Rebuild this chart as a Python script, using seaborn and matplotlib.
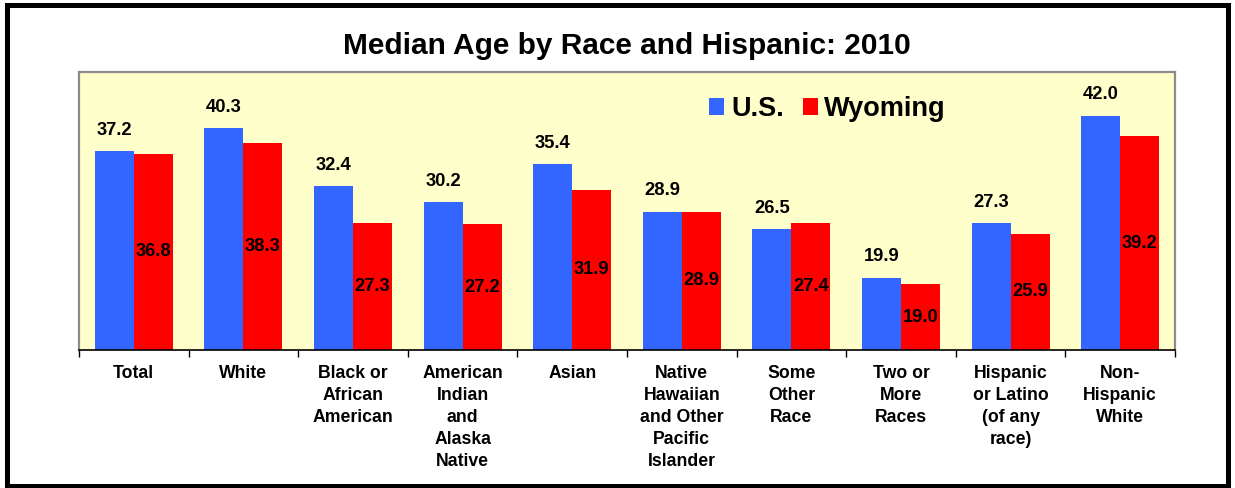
import matplotlib
matplotlib.use("Agg")
import matplotlib.pyplot as plt
import pandas as pd
import seaborn as sns
from matplotlib.patches import Rectangle
from matplotlib.ticker import FixedLocator

categories = ["Total", "White", "Black or\nAfrican\nAmerican", "American\nIndian\nand\nAlaska\nNative",
              "Asian", "Native\nHawaiian\nand Other\nPacific\nIslander", "Some\nOther\nRace",
              "Two or\nMore\nRaces", "Hispanic\nor Latino\n(of any\nrace)", "Non-\nHispanic\nWhite"]
us_values = [37.2, 40.3, 32.4, 30.2, 35.4, 28.9, 26.5, 19.9, 27.3, 42.0]
wy_values = [36.8, 38.3, 27.3, 27.2, 31.9, 28.9, 27.4, 19.0, 25.9, 39.2]
series = ["U.S.", "Wyoming"]
colors = ["#3366FF", "#FF0000"]

df = pd.DataFrame({
    "Category": categories * 2,
    "Age": us_values + wy_values,
    "Area": [series[0]] * len(categories) + [series[1]] * len(categories),
})

sns.set_style("white")
plt.rcParams["font.family"] = ["Liberation Sans", "DejaVu Sans"]
plt.rcParams["text.color"] = "black"
plt.rcParams["xtick.color"] = "black"
plt.rcParams["xtick.labelcolor"] = "black"

fig = plt.figure(figsize=(12.35, 4.88), dpi=100)
ax = fig.add_axes([79 / 1235, 138 / 488, 1096 / 1235, 278 / 488])
ax.set_facecolor("#FFFFCC")

sns.barplot(data=df, x="Category", y="Age", hue="Area", palette=colors,
            saturation=1, width=0.71, linewidth=0, ax=ax)
ax.set_ylim(10, 48)
ax.set_xlim(-0.5, len(categories) - 0.5)

# value labels: U.S. on top, Wyoming in middle of the visible bar
ax.bar_label(ax.containers[0], labels=[f"{v:.1f}" for v in us_values],
             padding=9, fontsize=13.2, fontweight="bold", color="black")
ybot = ax.get_ylim()[0]
for bar, v in zip(ax.containers[1], wy_values):
    ax.text(bar.get_x() + bar.get_width() / 2, (ybot + bar.get_height()) / 2, f"{v:.1f}",
            ha="center", va="center", fontsize=13.2, fontweight="bold", color="black")

# axes styling
ax.set_xlabel("")
ax.set_ylabel("")
ax.set_yticks([])
ax.tick_params(axis="x", which="major", length=0, pad=11)
ax.set_xticks(range(len(categories)))
ax.set_xticklabels(categories, fontsize=12.7, fontweight="bold", linespacing=1.37, va="top")
ax.xaxis.set_minor_locator(FixedLocator([i - 0.5 for i in range(len(categories) + 1)]))
ax.tick_params(axis="x", which="minor", length=5, width=1, color="black", direction="out", bottom=True)
for side in ["left", "top", "right"]:
    ax.spines[side].set_color("#8C8C8C")
    ax.spines[side].set_linewidth(1.6)
ax.spines["bottom"].set_color("black")
ax.spines["bottom"].set_linewidth(1.2)

ax.set_title("Median Age by Race and Hispanic: 2010", fontsize=21.5, fontweight="bold",
             pad=13, color="black")

handles, labels = ax.get_legend_handles_labels()
ax.legend(handles, labels, loc="center", bbox_to_anchor=(0.683, 0.867), ncol=2, frameon=False,
          prop={"size": 19.5, "weight": "bold"}, handlelength=0.55, handleheight=0.55,
          handletextpad=0.25, columnspacing=0.7, labelcolor="black")

# outer frame
fig.patches.append(Rectangle((6.5 / 1235, 2.5 / 488), 1221.5 / 1235, 480.5 / 488,
                             transform=fig.transFigure, fill=False, edgecolor="black",
                             linewidth=3.6, clip_on=False))

fig.savefig("out.png", dpi=100)
